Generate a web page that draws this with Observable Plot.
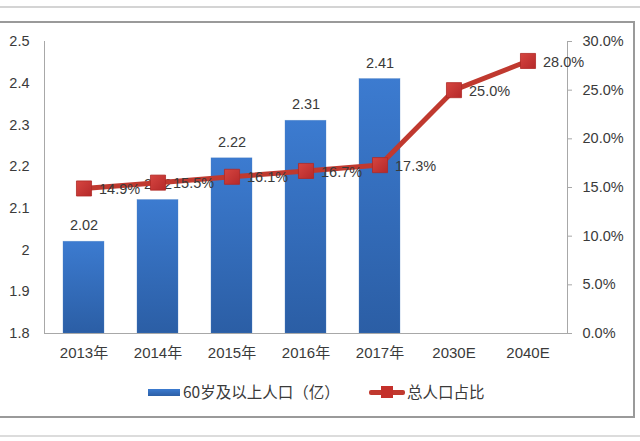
<!DOCTYPE html>
<html>
<head>
<meta charset="utf-8">
<script src="https://cdn.jsdelivr.net/npm/d3@7"></script>
<script src="https://cdn.jsdelivr.net/npm/@observablehq/plot@0.6"></script>
<style>
  html, body { margin: 0; padding: 0; background: #fff; }
  #wrap { position: relative; width: 640px; height: 441px; overflow: hidden;
    font-family: "Liberation Sans", "Noto Sans CJK SC", sans-serif; color: #3a3a3a; }
  .hline { position: absolute; left: 0; width: 640px; }
  #frame { position: absolute; left: -4px; top: 21px; width: 635px; height: 393px;
    border: 2px solid #9a9a9a; box-sizing: content-box; }
  #chart { position: absolute; left: 0; top: 0; }
  .leg { position: absolute; top: 381px; font-size: 15.5px; line-height: 20px; white-space: nowrap;
    font-family: "Noto Sans CJK SC", "Liberation Sans", sans-serif; color: #3a3a3a; }
</style>
</head>
<body>
<div id="wrap">
  <div class="hline" style="top:6px;border-top:2px solid #d4d4d4;"></div>
  <div id="frame"></div>
  <div class="hline" style="top:435px;border-top:2px solid #dcdcdc;"></div>
  <div id="chart"></div>
  <div class="leg" style="left:148px;">
    <span style="display:inline-block;width:32px;height:7px;vertical-align:middle;margin-top:-3px;background:linear-gradient(#3b7bd0,#2c5fa6);"></span><span id="leg1" style="margin-left:3px;"></span>
  </div>
  <div class="leg" style="left:369px;">
    <span style="display:inline-block;position:relative;width:36px;height:20px;vertical-align:middle;margin-top:-3px;">
      <span style="position:absolute;left:0;top:8px;width:36px;height:5px;background:#c0392f;border-radius:2px;"></span>
      <span style="position:absolute;left:12px;top:4px;width:12px;height:12px;background:#c4302b;"></span>
    </span><span id="leg2" style="margin-left:2px;"></span>
  </div>
</div>
<script>
const categories = ["2013年", "2014年", "2015年", "2016年", "2017年", "2030E", "2040E"];
const popCategories = ["2013年", "2014年", "2015年", "2016年", "2017年"];
const popValues = [2.02, 2.12, 2.22, 2.31, 2.41];
const shareValues = [0.149, 0.155, 0.161, 0.167, 0.173, 0.25, 0.28];
const leftTicks = [1.8, 1.9, 2.0, 2.1, 2.2, 2.3, 2.4, 2.5];
const rightTicks = [0, 0.05, 0.10, 0.15, 0.20, 0.25, 0.30];
const seriesNames = ["60岁及以上人口（亿）", "总人口占比"];

document.getElementById("leg1").textContent = seriesNames[0];
document.getElementById("leg2").textContent = seriesNames[1];

const yMin = 1.8, yMax = 2.5, pMax = 0.30;
const toY = p => yMin + p / pMax * (yMax - yMin);

const bars = popCategories.map((c, i) => ({cat: c, v: popValues[i]}));
const line = categories.map((c, i) => ({cat: c, p: shareValues[i], y: toY(shareValues[i])}));

const font = '"Liberation Sans", "Noto Sans CJK SC", sans-serif';
const chart = Plot.plot({
  width: 640,
  height: 441,
  marginTop: 41,
  marginBottom: 108,
  marginLeft: 44,
  marginRight: 73,
  style: {fontFamily: font, fontSize: "14px", color: "#3a3a3a", background: "transparent", overflow: "visible"},
  x: {domain: categories, paddingInner: 0.44, paddingOuter: 0.22, label: null},
  y: {domain: [yMin, yMax], label: null},
  marks: [
    Plot.barY(bars, {x: "cat", y1: yMin, y2: "v", fill: "url(#barGrad)", stroke: "#4a7fc4", strokeWidth: 0.6, strokeOpacity: 0.5}),
    Plot.ruleY([yMin], {stroke: "#a8a8a8", strokeWidth: 1}),
    Plot.frame({anchor: "left", stroke: "#a8a8a8"}),
    Plot.frame({anchor: "right", stroke: "#a8a8a8"}),
    Plot.axisY(leftTicks, {anchor: "left", tickSize: 0, tickPadding: 15, tickFormat: d => String(+d.toFixed(1)), label: null, fill: "#3a3a3a", fontSize: 14.5}),
    Plot.axisY(rightTicks.map(toY), {anchor: "right", tickSize: 4, tickPadding: 11, stroke: "#a8a8a8", tickFormat: (d, i) => (rightTicks[i] * 100).toFixed(1) + "%", label: null, fill: "#3a3a3a", fontSize: 14.5}),
    Plot.axisX({anchor: "bottom", tickSize: 0, tickPadding: 14, label: null, fill: "#3a3a3a", fontSize: 15, fontFamily: font}),
    Plot.text(bars, {x: "cat", y: "v", text: d => d.v.toFixed(2), dy: -16, fill: "#3a3a3a", fontSize: 14.5}),
    Plot.line(line, {x: "cat", y: "y", stroke: "#c0392f", strokeWidth: 5, strokeLinejoin: "round"}),
    Plot.dot(line, {x: "cat", y: "y", symbol: "square", r: 8.5, fill: "url(#dotGrad)", stroke: "#b02a26", strokeWidth: 0.8}),
    Plot.text(line, {x: "cat", y: "y", text: d => (d.p * 100).toFixed(1) + "%", textAnchor: "start", dx: 15, dy: 1, fill: "#3a3a3a", fontSize: 14.5})
  ]
});

const ns = "http://www.w3.org/2000/svg";
const defs = document.createElementNS(ns, "defs");
defs.innerHTML = `
  <linearGradient id="barGrad" x1="0" y1="0" x2="0" y2="1">
    <stop offset="0" stop-color="#3c7bd0"/>
    <stop offset="1" stop-color="#2b5ea5"/>
  </linearGradient>
  <linearGradient id="dotGrad" x1="0" y1="0" x2="1" y2="1">
    <stop offset="0" stop-color="#d64540"/>
    <stop offset="1" stop-color="#b5292a"/>
  </linearGradient>`;
chart.insertBefore(defs, chart.firstChild);
document.getElementById("chart").appendChild(chart);
</script>
</body>
</html>
